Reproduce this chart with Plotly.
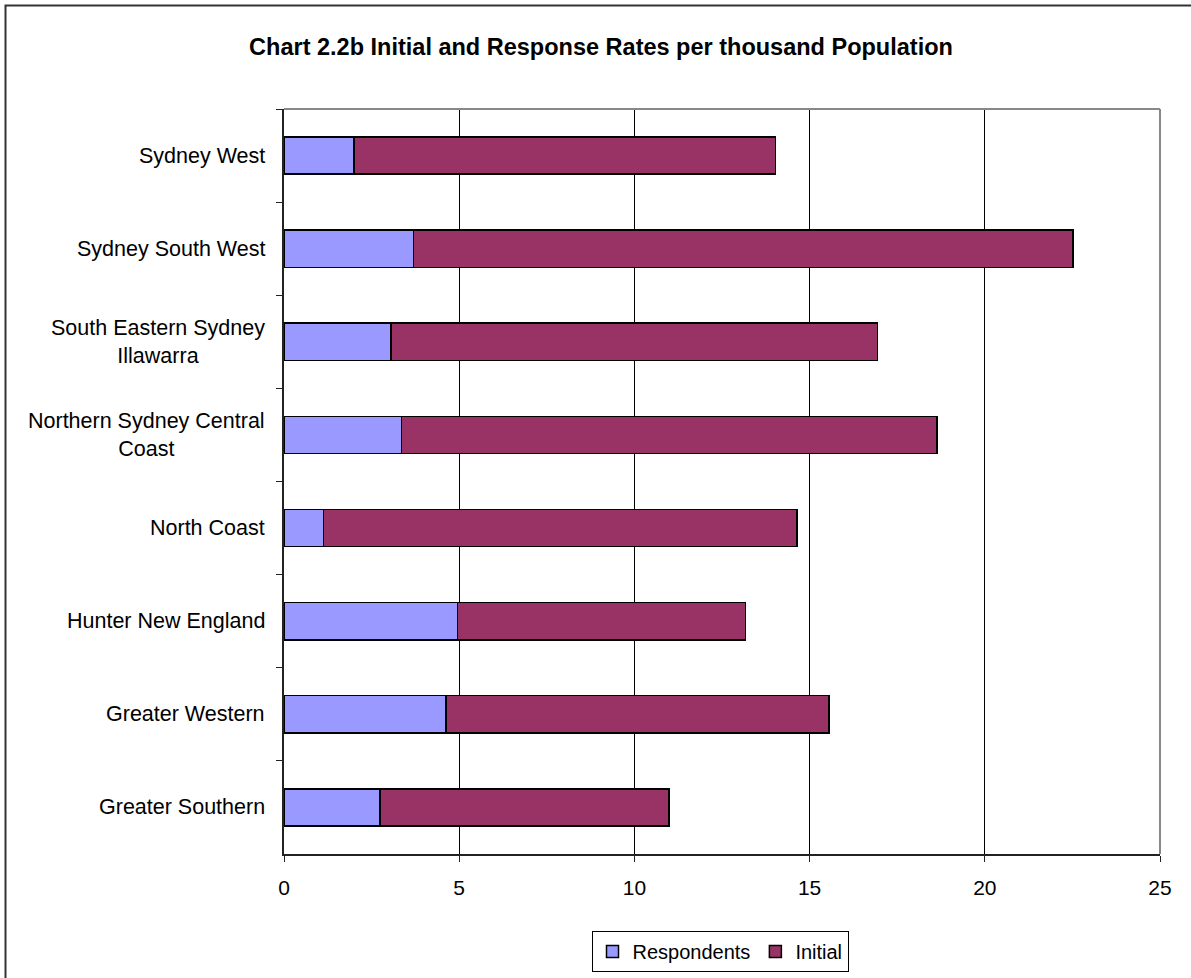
import plotly.graph_objects as go

# ---- data ----
regions = [
    "Sydney West",
    "Sydney South West",
    "South Eastern Sydney<br>Illawarra",
    "Northern Sydney Central<br>Coast",
    "North Coast",
    "Hunter New England",
    "Greater Western",
    "Greater Southern",
]
respondents = [2.00, 3.70, 3.06, 3.36, 1.13, 4.95, 4.62, 2.74]
initial = [12.02, 18.81, 13.88, 15.28, 13.51, 8.22, 10.94, 8.25]
x_ticks = [0, 5, 10, 15, 20, 25]
title_text = "Chart 2.2b Initial and Response Rates per thousand Population"

FONT = "Liberation Sans, Arial, sans-serif"
W, H = 1191, 978
L, R, T, B = 284, 31, 109, 124
pw, ph = W - L - R, H - T - B


def px_x(p):
    return (p - L) / pw


def px_y(p):
    return (H - B - p) / ph


fig = go.Figure()
fig.add_trace(go.Bar(
    y=regions, x=respondents, orientation="h", name="Respondents",
    marker=dict(color="#9999FF", line=dict(color="black", width=1.5)),
))
fig.add_trace(go.Bar(
    y=regions, x=initial, orientation="h", name="Initial",
    marker=dict(color="#993366", line=dict(color="black", width=1.5)),
))

# category labels (centred multi-line, like the original)
for r in regions:
    fig.add_annotation(
        x=px_x(267), xref="paper", y=r, yref="y", text=r, showarrow=False,
        xanchor="right", yanchor="middle", align="center",
        font=dict(family=FONT, size=21.5, color="black"),
    )

shapes = [
    # outer chart border (runs off the right and bottom edges)
    dict(type="rect", xref="paper", yref="paper",
         x0=px_x(5.5), x1=px_x(1200), y0=px_y(990), y1=px_y(5.5),
         line=dict(color="#333333", width=2), layer="below"),
    # grey plot-area border (top and right)
    dict(type="line", xref="paper", yref="paper", x0=0, x1=1, y0=1, y1=1,
         line=dict(color="#888888", width=2)),
    dict(type="line", xref="paper", yref="paper", x0=1, x1=1, y0=0, y1=1,
         line=dict(color="#888888", width=2)),
]

fig.update_layout(
    width=W, height=H,
    margin=dict(l=L, r=R, t=T, b=B),
    paper_bgcolor="white", plot_bgcolor="white",
    barmode="stack", bargap=0.6,
    font=dict(family=FONT, color="black"),
    title=dict(text="<b>" + title_text + "</b>", x=601 / W, xref="container",
               xanchor="center", y=1 - 47 / H, yref="container", yanchor="middle",
               font=dict(family=FONT, size=23.5, color="black")),
    showlegend=True,
    legend=dict(orientation="h", x=720 / W, xref="container", xanchor="center",
                y=1 - 931 / H, yref="container", yanchor="top",
                bordercolor="black", borderwidth=1, bgcolor="white",
                font=dict(family=FONT, size=20, color="black"),
                traceorder="normal", itemclick=False),
    shapes=shapes,
    xaxis=dict(range=[0, 25], tickvals=x_ticks, ticktext=[str(v) for v in x_ticks],
               showgrid=True, gridcolor="black", gridwidth=1,
               zeroline=False, showline=True, linecolor="#222222", linewidth=2,
               ticks="outside", ticklen=6, tickcolor="#222222", tickwidth=1,
               ticklabelstandoff=8,
               tickfont=dict(family=FONT, size=21, color="black"),
               fixedrange=True),
    yaxis=dict(autorange="reversed", showgrid=False, zeroline=False,
               showline=True, linecolor="#222222", linewidth=2,
               ticks="outside", tickson="boundaries", ticklen=6,
               tickcolor="#222222", tickwidth=1, showticklabels=False,
               fixedrange=True),
)

fig.write_html("out.html")
